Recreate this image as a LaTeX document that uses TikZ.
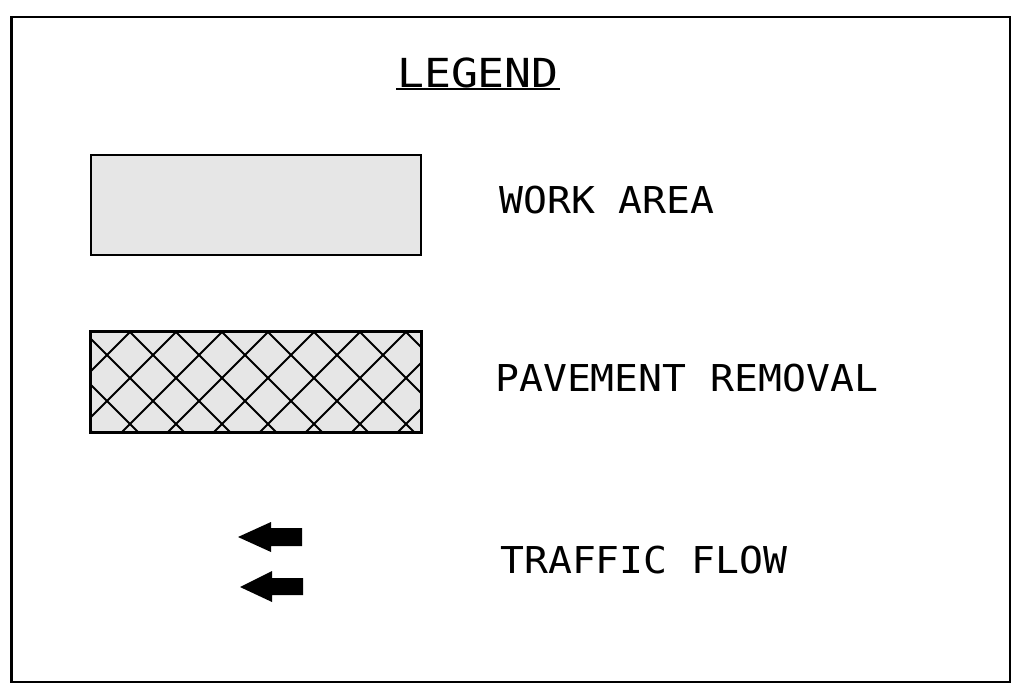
\documentclass[tikz,border=0pt]{standalone}
\usepackage{graphicx}
\usepackage{fontspec}
\setmainfont{DejaVu Sans Mono}
\definecolor{fillgray}{HTML}{E6E6E6}
\newcommand{\legwide}[1]{\scalebox{1.075}[1]{#1}}
\begin{document}
\begin{tikzpicture}[x=1pt,y=-1pt,
  legtext/.style={inner sep=0pt,anchor=base west,font=\fontsize{37}{37}\selectfont},
  swatch/.style={draw=black,line width=1.6pt,fill=fillgray},
  hatchline/.style={line width=2pt},
  flowarrow/.style={fill=black,draw=none}]
\useasboundingbox (0,0) rectangle (1013,699);
\draw[line width=2.6pt] (11.5,17) rectangle (1010,682);
% title
\node[inner sep=0pt,anchor=base,font=\fontsize{40}{40}\selectfont] (title) at (478,87) {\scalebox{1.12}[1]{LEGEND}};
\draw[line width=1.6pt] (396,89) -- (560,89);
% work area
\node[swatch,minimum width=330pt,minimum height=100pt,inner sep=0pt] (work) at (256,205) {};
\node[legtext] (worklbl) at (499,213) {\legwide{WORK AREA}};
% pavement removal
\node[swatch,minimum width=330pt,minimum height=100pt,inner sep=0pt] (pave) at (256,382) {};
\begin{scope}
\clip (pave.south west) rectangle (pave.north east);
\foreach \k in {-4,...,10} {
  \draw[hatchline] ({130+46*\k},332) -- ({30+46*\k},432);
  \draw[hatchline] ({130+46*\k},332) -- ({230+46*\k},432);
}
\end{scope}
\draw[line width=2pt] (pave.south west) rectangle (pave.north east);
\node[legtext] (pavelbl) at (495,391) {\legwide{PAVEMENT REMOVAL}};
% traffic flow
\fill[flowarrow] (238,537) -- (271,522) -- (271,528) -- (302,528) -- (302,546) -- (271,546) -- (271,552) -- cycle;
\fill[flowarrow] (240,587) -- (272,571) -- (272,578) -- (303,578) -- (303,595) -- (272,595) -- (272,602) -- cycle;
\node[legtext] (flowlbl) at (500,573) {\legwide{TRAFFIC FLOW}};
\end{tikzpicture}
\end{document}
